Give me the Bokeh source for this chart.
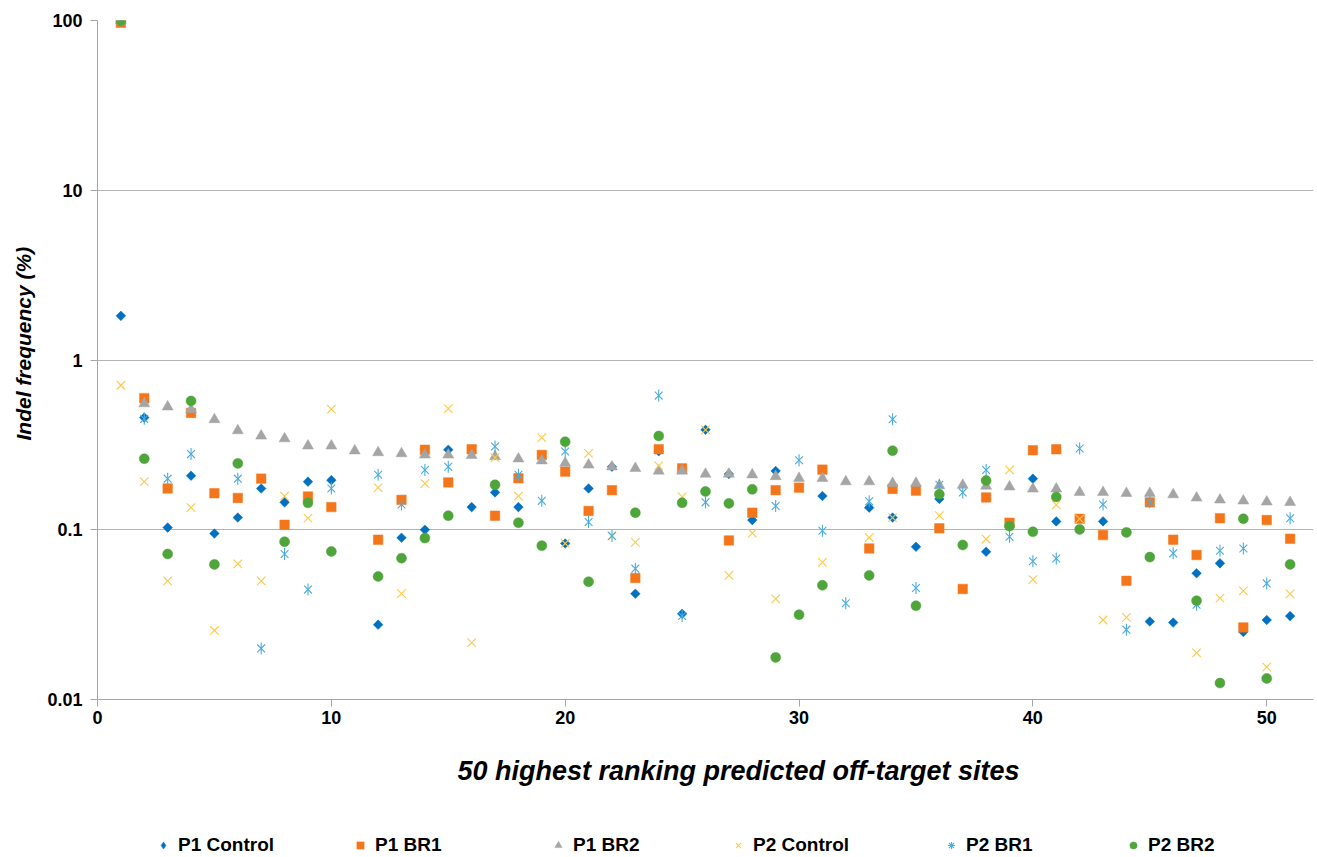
import numpy as np
from bokeh.plotting import figure
from bokeh.layouts import column
from bokeh.models import (ColumnDataSource, Range1d, FixedTicker, CustomJSTickFormatter,
                          Legend, LegendItem, Title)
from bokeh.embed import file_html
from bokeh.resources import INLINE

nan = float("nan")

sites = list(range(1, 52))

p1_control = [1.82, 0.458, 0.103, 0.208, 0.095, 0.118, 0.175, 0.145, 0.192, 0.196,
              nan, 0.0276, 0.0897, 0.100, 0.296, 0.136, 0.166, 0.136, nan, 0.083,
              0.175, 0.235, 0.042, 0.290, 0.032, 0.388, 0.213, 0.114, 0.222, nan,
              0.158, nan, 0.135, 0.118, 0.0794, 0.152, nan, 0.0742, nan, 0.200,
              0.112, nan, 0.112, nan, 0.0288, 0.0284, 0.0554, 0.0634, 0.025, 0.0294,
              0.031]
p1_br1 = [97, 0.596, 0.175, 0.488, 0.164, 0.154, 0.200, 0.107, 0.157, 0.136,
          nan, 0.0874, 0.150, 0.296, 0.190, 0.298, 0.121, 0.201, 0.276, 0.220,
          0.129, 0.171, 0.052, 0.298, 0.230, nan, 0.0865, 0.126, 0.171, 0.177,
          0.226, nan, 0.0776, 0.174, 0.170, 0.102, 0.0448, 0.155, 0.110, 0.294,
          0.298, 0.116, 0.093, 0.050, 0.145, 0.0874, 0.071, 0.117, 0.0266, 0.114,
          0.0885]
p1_br2 = [100, 0.553, 0.530, 0.510, 0.446, 0.384, 0.357, 0.344, 0.312, 0.312,
          0.292, 0.285, 0.281, 0.276, 0.276, 0.274, 0.270, 0.262, 0.255, 0.247,
          0.241, 0.235, 0.230, 0.222, 0.222, 0.213, 0.213, 0.211, 0.206, 0.201,
          0.201, 0.192, 0.192, 0.188, 0.188, 0.182, 0.183, 0.181, 0.179, 0.174,
          0.174, 0.166, 0.166, 0.164, 0.164, 0.161, 0.154, 0.150, 0.148, 0.146,
          0.145]
p2_control = [0.71, 0.192, 0.050, 0.135, 0.0255, 0.063, 0.050, 0.158, 0.117, 0.513,
              nan, 0.177, 0.042, 0.187, 0.517, 0.0216, 0.266, 0.158, 0.349, 0.083,
              0.282, 0.092, 0.0842, 0.238, 0.156, 0.388, 0.0538, 0.0955, 0.0391, nan,
              0.0642, nan, 0.090, 0.118, nan, 0.121, nan, 0.0882, 0.225, 0.0508,
              0.140, 0.116, 0.0294, 0.0305, nan, nan, 0.0188, 0.0396, 0.0436, 0.0155,
              0.0419]
p2_br1 = [100, 0.450, 0.200, 0.279, nan, 0.200, 0.020, 0.072, 0.0444, 0.175,
          nan, 0.211, 0.141, 0.225, 0.235, nan, 0.309, 0.211, 0.148, 0.289,
          0.111, 0.092, 0.059, 0.617, 0.031, 0.145, nan, nan, 0.138, 0.257,
          0.0986, 0.0369, 0.147, 0.448, 0.0454, 0.184, 0.166, 0.225, 0.091, 0.0652,
          0.0677, 0.301, 0.141, 0.0258, 0.145, 0.0726, 0.0362, 0.0752, 0.0776, 0.0483,
          0.117]
p2_br2 = [100, 0.262, 0.072, 0.574, 0.0625, 0.246, nan, 0.085, 0.144, 0.0745,
          nan, 0.0531, 0.068, 0.0893, 0.121, nan, 0.184, 0.110, 0.0806, 0.330,
          0.0494, nan, 0.126, 0.357, 0.144, 0.168, 0.143, 0.173, 0.0177, 0.0316,
          0.0471, nan, 0.0538, 0.292, 0.0357, 0.162, 0.0813, 0.195, 0.105, 0.0973,
          0.156, 0.1005, nan, 0.0965, 0.069, nan, 0.0382, 0.0125, 0.116, 0.0133,
          0.0625]

series_names = ["P1 Control", "P1 BR1", "P1 BR2", "P2 Control", "P2 BR1", "P2 BR2"]
y_ticks = [0.01, 0.1, 1, 10, 100]
x_ticks = [0, 10, 20, 30, 40, 50]
x_title = "50 highest ranking  predicted off-target sites"
y_title = "Indel frequency (%)"

src = ColumnDataSource(dict(
    x=sites,
    p1c=np.array(p1_control, dtype=float),
    p1b1=np.array(p1_br1, dtype=float),
    p1b2=np.array(p1_br2, dtype=float),
    p2c=np.array(p2_control, dtype=float),
    p2b1=np.array(p2_br1, dtype=float),
    p2b2=np.array(p2_br2, dtype=float),
))

FONT = "Liberation Sans"
AXIS_GRAY = "#A6A6A6"
W = 1315

BLUE, ORANGE, GRAY, YELLOW, LBLUE, GREEN = ("#0070C0", "#F5761A", "#A5A5A5",
                                            "#FFC847", "#4BACE0", "#4EA53A")

# marker styles in the chart (the P2 BR1 "star" is an x plus a vertical dash)
STYLES = [
    [dict(marker="square", angle=np.pi / 4, size=6.8, fill_color=BLUE,
          line_color=BLUE, line_width=0.5)],
    [dict(marker="square", size=9.5, fill_color=ORANGE, line_color=ORANGE, line_width=0.5)],
    [dict(marker="triangle", size=11, fill_color=GRAY, line_color=GRAY, line_width=0.5)],
    [dict(marker="x", size=12, line_color=YELLOW, line_width=1.1)],
    [dict(marker="x", size=11, line_color=LBLUE, line_width=1.1),
     dict(marker="dash", angle=np.pi / 2, size=12, line_color=LBLUE, line_width=1.1)],
    [dict(marker="circle", size=10, fill_color=GREEN, line_color=GREEN, line_width=0.5)],
]
# marker styles in the legend strip
LEGEND_STYLES = [
    [dict(marker="diamond", fill_color=BLUE, line_color=BLUE, line_width=0.5)],
    [dict(marker="square", fill_color=ORANGE, line_color=ORANGE, line_width=0.5)],
    [dict(marker="triangle", fill_color=GRAY, line_color=GRAY, line_width=0.5)],
    [dict(marker="x", line_color=YELLOW, line_width=1.1)],
    [dict(marker="asterisk", line_color=LBLUE, line_width=1.1)],
    [dict(marker="circle", fill_color=GREEN, line_color=GREEN, line_width=0.5)],
]
COLS = ["p1c", "p1b1", "p1b2", "p2c", "p2b1", "p2b2"]

p = figure(width=W, height=817, y_axis_type="log",
           x_range=Range1d(0, 52.0), y_range=Range1d(0.01, 100),
           output_backend="svg", toolbar_location=None,
           min_border_left=97, min_border_right=2, min_border_top=20,
           min_border_bottom=118)
p.outline_line_color = None
p.background_fill_color = "white"
p.border_fill_color = "white"

for col, styles in zip(COLS, STYLES):
    for st in styles:
        p.scatter("x", col, source=src, **st)

# axes
p.yaxis.ticker = FixedTicker(ticks=y_ticks)
p.yaxis.formatter = CustomJSTickFormatter(code="return tick.toString();")
p.xaxis.ticker = FixedTicker(ticks=x_ticks)
for ax in (p.xaxis[0], p.yaxis[0]):
    ax.axis_line_color = AXIS_GRAY
    ax.axis_line_width = 1
    ax.major_tick_line_color = AXIS_GRAY
    ax.major_tick_in = 0
    ax.major_tick_out = 7
    ax.minor_tick_line_color = None
    ax.major_label_text_font = FONT
    ax.major_label_text_font_style = "bold"
    ax.major_label_text_font_size = "18px"
    ax.major_label_text_color = "#000000"
p.yaxis.major_label_standoff = 8
p.xaxis.major_label_standoff = 4

# axis titles as positioned titles
xt = Title(text=x_title, align="left", offset=360, standoff=54,
           text_font=FONT, text_font_style="bold italic", text_font_size="27px",
           text_color="#000000")
p.add_layout(xt, "below")
yt = Title(text=y_title, align="left", offset=259, standoff=19,
           text_font=FONT, text_font_style="bold italic", text_font_size="21px",
           text_color="#000000")
p.add_layout(yt, "left")

p.xgrid.grid_line_color = None
p.ygrid.grid_line_color = "#B4B4B4"
p.ygrid.grid_line_width = 1
p.ygrid.minor_grid_line_color = None

# legend strip below the chart (its renderers share the data but lie outside its ranges)
lf = figure(width=W, height=39, x_range=Range1d(-3, -2), y_range=Range1d(-3, -2),
            output_backend="svg", toolbar_location=None,
            x_axis_location=None, y_axis_location=None,
            min_border_left=0, min_border_right=0, min_border_top=0, min_border_bottom=0)
lf.outline_line_color = None
lf.xgrid.grid_line_color = None
lf.ygrid.grid_line_color = None
lf.background_fill_color = "white"
lf.border_fill_color = "white"

legend_x = [56, 253, 451, 631, 844, 1026]
for name, col, styles, lx in zip(series_names, COLS, LEGEND_STYLES, legend_x):
    rs = [lf.scatter("x", col, source=src, **st) for st in styles]
    lg = Legend(items=[LegendItem(label=name, renderers=rs)],
                location=(lx, 0), orientation="horizontal")
    lg.border_line_color = None
    lg.background_fill_alpha = 0
    lg.label_text_font = FONT
    lg.label_text_font_style = "bold"
    lg.label_text_font_size = "19px"
    lg.label_text_color = "#000000"
    lg.glyph_width = 20
    lg.glyph_height = 18
    lg.label_standoff = 5
    lg.padding = 0
    lg.margin = 0
    lf.add_layout(lg)

layout = column(p, lf, spacing=0)
open("out.html", "w").write(file_html(layout, INLINE))
